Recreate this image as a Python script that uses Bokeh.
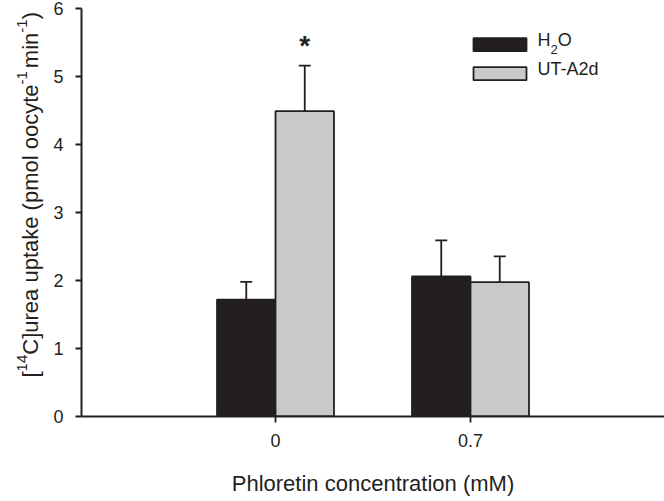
import math
from bokeh.plotting import figure
from bokeh.layouts import row
from bokeh.models import ColumnDataSource, Whisker, TeeHead, Label, BoxAnnotation, FixedTicker
from bokeh.core.properties import value
from bokeh.embed import file_html
from bokeh.resources import INLINE

# ---- data ----
categories = ["0", "0.7"]          # phloretin concentration (mM)
cat_pos = [1, 2]
h2o = [1.72, 2.06]
h2o_err = [0.26, 0.53]
uta2d = [4.49, 1.975]
uta2d_err = [0.67, 0.38]
significant = [True, False]
y_ticks = [0, 1, 2, 3, 4, 5, 6]

INK = "#231f20"
GRAY = "#c8c9cb"
FONT = "Liberation Sans"
BAR_W = 0.3

W, H = 664, 501
LABEL_W = 45
FRAME_TOP, FRAME_BOTTOM = 8, 416   # pixel rows of the plotting frame

# ---- narrow panel holding the rotated y-axis title (with superscripts) ----
# its frame is aligned with the main frame by the row layout, so use pixel-like data units
lab = figure(width=LABEL_W, height=H, output_backend="svg", toolbar_location=None,
             x_range=(0, LABEL_W), y_range=(H - FRAME_BOTTOM, H - FRAME_TOP),
             x_axis_location=None, y_axis_location=None,
             min_border_left=0, min_border_right=0, min_border_top=FRAME_TOP,
             min_border_bottom=H - FRAME_BOTTOM)
lab.outline_line_color = None
lab.grid.visible = False

ARIAL = {'[': 278, ']': 278, '1': 556, '4': 556, 'C': 722, 'u': 556, 'r': 333, 'e': 556,
         'a': 556, ' ': 278, 'p': 556, 't': 278, 'k': 500, '(': 333, ')': 333, 'm': 833,
         'o': 556, 'l': 222, 'c': 500, 'y': 500, '-': 333, 'i': 222, 'n': 556}
MAIN, SUP = 22, 15
pieces = [("[", False, 0), ("14", True, 0), ("C]urea uptake (pmol oocyte", False, 0),
          ("-1", True, 3), ("min", False, 0), ("-1", True, 0), (")", False, 0)]
base_x, pos = 30, H - 377
for txt, sup, gap in pieces:
    size = SUP if sup else MAIN
    lab.add_layout(Label(x=base_x - (9 if sup else 0), y=pos, text=txt, angle=math.pi / 2,
                         text_align="left", text_baseline="alphabetic",
                         text_font=FONT, text_font_size=f"{size}px", text_color=INK))
    pos += sum(ARIAL[ch] for ch in txt) * size / 1000.0 + gap

# ---- main chart ----
p = figure(width=W - LABEL_W, height=H, output_backend="svg", toolbar_location=None,
           x_range=(0.005, 2.995), y_range=(0, 6),
           min_border_left=81 - LABEL_W, min_border_right=0, min_border_top=FRAME_TOP,
           min_border_bottom=H - FRAME_BOTTOM)
p.outline_line_color = None
p.grid.visible = False
p.background_fill_color = "white"

x_h = [c - BAR_W / 2 for c in cat_pos]
x_u = [c + BAR_W / 2 for c in cat_pos]
src_h = ColumnDataSource(dict(x=x_h, top=h2o, up=[v + e for v, e in zip(h2o, h2o_err)]))
src_u = ColumnDataSource(dict(x=x_u, top=uta2d, up=[v + e for v, e in zip(uta2d, uta2d_err)]))

for src, col in ((src_h, INK), (src_u, GRAY)):
    p.vbar(x="x", top="top", bottom=0, width=BAR_W, source=src,
           fill_color=col, line_color=INK, line_width=1.8)
    w = Whisker(base="x", lower="top", upper="up", source=src, dimension="height",
                line_color=INK, line_width=1.8, lower_head=None,
                upper_head=TeeHead(size=12, line_color=INK, line_width=1.8))
    p.add_layout(w)

# significance marker
sx = [x for x, s in zip(x_u, significant) if s]
sy = [v + e + 0.29 for v, e, s in zip(uta2d, uta2d_err, significant) if s]
p.text(x=sx, y=sy, text=["*"] * len(sx), text_align="center", text_baseline="alphabetic",
       text_font=value(FONT), text_font_size="28px", text_font_style="bold", text_color=INK)

# ---- axes ----
for ax in (p.xaxis[0], p.yaxis[0]):
    ax.axis_line_color = INK
    ax.axis_line_width = 2
    ax.major_tick_line_color = INK
    ax.major_tick_line_width = 1.8
    ax.major_tick_in = 0
    ax.major_tick_out = 6
    ax.minor_tick_line_color = None
    ax.major_label_text_font = FONT
    ax.major_label_text_font_size = "18px"
    ax.major_label_text_color = INK

p.xaxis.ticker = FixedTicker(ticks=cat_pos)
p.xaxis.major_label_overrides = {c: lab_ for c, lab_ in zip(cat_pos, categories)}
p.xaxis.major_label_standoff = 11
p.xaxis.axis_label = "Phloretin concentration (mM)"
p.xaxis.axis_label_text_font = FONT
p.xaxis.axis_label_text_font_size = "22px"
p.xaxis.axis_label_text_font_style = "normal"
p.xaxis.axis_label_text_color = INK
p.xaxis.axis_label_standoff = 21

p.yaxis.ticker = FixedTicker(ticks=y_ticks)
p.yaxis.major_label_standoff = 12

# ---- legend (manual, for subscript) ----
for top, col in ((378.3, INK), (349.3, GRAY)):
    p.add_layout(BoxAnnotation(left=392, right=445, top=top, bottom=top - 13,
                               left_units="screen", right_units="screen",
                               top_units="screen", bottom_units="screen",
                               fill_color=col, fill_alpha=1.0, line_color=INK,
                               line_width=1.8, line_alpha=1.0))
LEG = 18
lx = 456
p.add_layout(Label(x=lx, y=366.7, x_units="screen", y_units="screen", text="H",
                   text_font=FONT, text_font_size=f"{LEG}px", text_color=INK))
lx2 = lx + 722 * LEG / 1000
p.add_layout(Label(x=lx2, y=362.7, x_units="screen", y_units="screen", text="2",
                   text_font=FONT, text_font_size="13px", text_color=INK))
lx3 = lx2 + 556 * 13 / 1000
p.add_layout(Label(x=lx3, y=366.7, x_units="screen", y_units="screen", text="O",
                   text_font=FONT, text_font_size=f"{LEG}px", text_color=INK))
p.add_layout(Label(x=lx, y=337.5, x_units="screen", y_units="screen", text="UT-A2d",
                   text_font=FONT, text_font_size=f"{LEG}px", text_color=INK))

layout = row(lab, p, spacing=0)
open("out.html", "w").write(file_html(layout, INLINE))
